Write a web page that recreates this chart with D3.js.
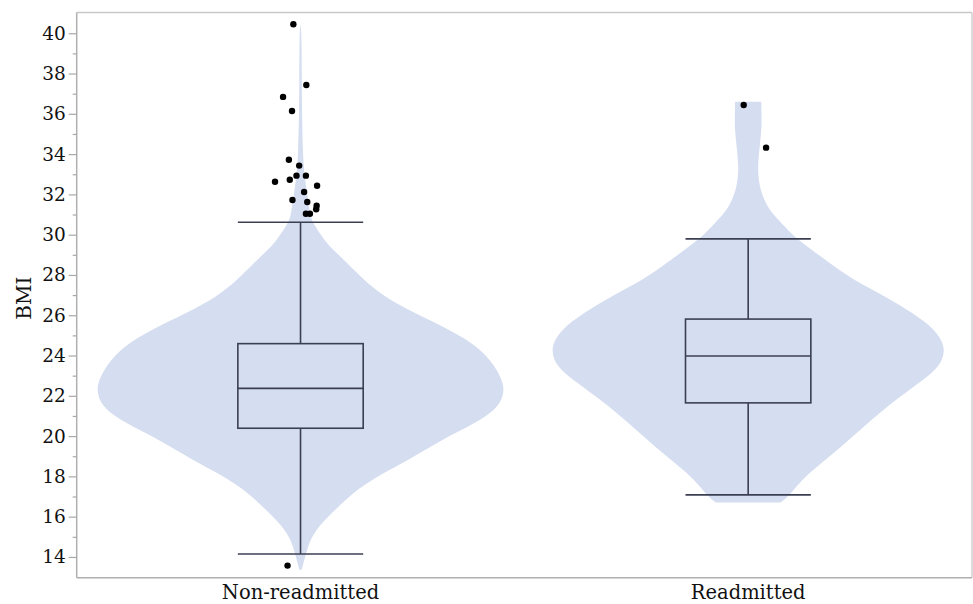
<!DOCTYPE html>
<html>
<head>
<meta charset="utf-8">
<script src="https://cdn.jsdelivr.net/npm/d3@7"></script>
<style>
  html, body { margin: 0; padding: 0; background: #fff; }
  svg { display: block; }
  text { font-family: "DejaVu Serif", "Liberation Serif", serif; fill: #111; }
</style>
</head>
<body>
<svg id="chart" width="973" height="604"></svg>
<script>
// ---------------- DATA ----------------
const categories = ["Non-readmitted", "Readmitted"];

// Box statistics [lowerWhisker, q1, median, q3, upperWhisker]
const boxNon = [14.15, 20.39, 22.37, 24.59, 30.62];
const boxRead = [17.08, 21.65, 23.98, 25.81, 29.79];

// Violin density profiles: BMI value and relative density (1 = widest of Non-readmitted)
const violinNonBMI = [40.45, 40.0, 38.0, 36.0, 34.0, 33.38, 32.72, 31.72, 31.06, 30.6, 29.72, 29.4, 28.58, 27.75, 26.92, 26.1, 25.27, 24.44, 23.61, 22.45, 21.46, 20.8, 20.14, 19.47, 18.65, 17.82, 16.99, 16.17, 15.34, 14.51, 13.68, 13.35];
const violinNonDensity = [0.0, 0.005, 0.006, 0.007, 0.012, 0.016, 0.022, 0.037, 0.046, 0.058, 0.118, 0.145, 0.230, 0.310, 0.410, 0.560, 0.735, 0.870, 0.945, 1.010, 0.975, 0.885, 0.755, 0.637, 0.500, 0.343, 0.235, 0.152, 0.072, 0.034, 0.015, 0.004];

const violinReadBMI = [36.6, 35.6, 35.2, 34.3, 33.55, 32.72, 31.8, 31.06, 30.4, 29.8, 28.58, 27.75, 26.92, 26.1, 25.27, 24.36, 23.45, 22.79, 21.96, 21.13, 20.3, 19.47, 18.65, 17.82, 17.08, 16.7];
const violinReadDensity = [0.064, 0.066, 0.065, 0.056, 0.048, 0.049, 0.072, 0.115, 0.181, 0.235, 0.402, 0.515, 0.676, 0.809, 0.920, 0.972, 0.940, 0.858, 0.745, 0.642, 0.549, 0.456, 0.358, 0.260, 0.205, 0.159];

// Outlier points: BMI value and horizontal jitter (fraction of category band)
const outNonBMI = [40.45, 37.43, 36.84, 36.14, 33.72, 33.43, 32.93, 32.93, 32.63, 32.73, 32.43, 32.12, 31.72, 31.62, 31.44, 31.26, 31.04, 31.04, 13.57];
const outNonJitter = [-0.016, 0.013, -0.039, -0.019, -0.026, -0.003, -0.009, 0.012, -0.057, -0.024, 0.037, 0.008, -0.018, 0.015, 0.036, 0.035, 0.012, 0.021, -0.029];
const outReadBMI = [36.44, 34.32];
const outReadJitter = [-0.010, 0.040];

const yTicks = [14, 16, 18, 20, 22, 24, 26, 28, 30, 32, 34, 36, 38, 40];
const yMinorTicks = [15, 17, 19, 21, 23, 25, 27, 29, 31, 33, 35, 37, 39];
const yLabel = "BMI";

// ---------------- LAYOUT ----------------
const W = 973, H = 604;
const plot = { left: 76.7, right: 972, top: 12.5, bottom: 577.7 };

const svg = d3.select("#chart");

const x = d3.scaleBand().domain(categories).range([plot.left, plot.right]).padding(0);
const y = d3.scaleLinear().domain([12.97, 41.03]).range([plot.bottom, plot.top]);
const wScale = d3.scaleLinear().domain([0, 1]).range([0, 204]);

const groups = [
  { cat: categories[0], box: boxNon, vb: violinNonBMI, vd: violinNonDensity, ob: outNonBMI, oj: outNonJitter },
  { cat: categories[1], box: boxRead, vb: violinReadBMI, vd: violinReadDensity, ob: outReadBMI, oj: outReadJitter }
];

const violinColor = "#d5ddf0";
const boxColor = "#3b3f52";

// Violins
groups.forEach(g => {
  const cx = x(g.cat) + x.bandwidth() / 2;
  const pts = g.vb.map((v, i) => ({ v, d: g.vd[i] }));
  const area = d3.area()
    .y(d => y(d.v))
    .x0(d => cx - wScale(d.d))
    .x1(d => cx + wScale(d.d))
    .curve(d3.curveBasis);
  svg.append("path").datum(pts).attr("d", area).attr("fill", violinColor).attr("stroke", "none");
});

// Boxes
const boxFrac = 0.28;
groups.forEach(g => {
  const cx = x(g.cat) + x.bandwidth() / 2;
  const bw = x.bandwidth() * boxFrac;
  const [lw, q1, med, q3, uw] = g.box;
  const gg = svg.append("g").attr("stroke", boxColor).attr("stroke-width", 1.6).attr("fill", "none");
  gg.append("line").attr("x1", cx).attr("x2", cx).attr("y1", y(uw)).attr("y2", y(q3));
  gg.append("line").attr("x1", cx).attr("x2", cx).attr("y1", y(q1)).attr("y2", y(lw));
  gg.append("line").attr("x1", cx - bw / 2).attr("x2", cx + bw / 2).attr("y1", y(uw)).attr("y2", y(uw));
  gg.append("line").attr("x1", cx - bw / 2).attr("x2", cx + bw / 2).attr("y1", y(lw)).attr("y2", y(lw));
  gg.append("rect").attr("x", cx - bw / 2).attr("y", y(q3)).attr("width", bw).attr("height", y(q1) - y(q3));
  gg.append("line").attr("x1", cx - bw / 2).attr("x2", cx + bw / 2).attr("y1", y(med)).attr("y2", y(med));
});

// Outlier points
groups.forEach(g => {
  const cx = x(g.cat) + x.bandwidth() / 2;
  svg.append("g").selectAll("circle")
    .data(g.ob.map((v, i) => ({ v, j: g.oj[i] })))
    .join("circle")
    .attr("cx", d => cx + d.j * x.bandwidth())
    .attr("cy", d => y(d.v))
    .attr("r", 3.2)
    .attr("fill", "#000");
});

// Frame (top and right)
svg.append("line").attr("x1", plot.left).attr("x2", plot.right).attr("y1", plot.top).attr("y2", plot.top)
  .attr("stroke", "#c8c8c8").attr("stroke-width", 1.5);
svg.append("line").attr("x1", plot.right).attr("x2", plot.right).attr("y1", plot.top).attr("y2", plot.bottom)
  .attr("stroke", "#d0d0d0").attr("stroke-width", 1.5);

// Y axis
const yAxis = d3.axisLeft(y).tickValues(yTicks).tickSize(8).tickPadding(3).tickSizeOuter(0);
const yg = svg.append("g").attr("transform", `translate(${plot.left},0)`).call(yAxis);
yg.select(".domain").attr("stroke", "#b0b0b0").attr("stroke-width", 1.5)
  .attr("d", `M0,${plot.top}V${plot.bottom}`);
yg.selectAll(".tick line").attr("stroke", "#a8a8a8").attr("stroke-width", 1.2);
yg.selectAll(".tick text").attr("font-family", "DejaVu Serif").attr("font-size", 18.5).attr("fill", "#111");

const yMinor = d3.axisLeft(y).tickValues(yMinorTicks).tickSize(4).tickFormat("").tickSizeOuter(0);
const ym = svg.append("g").attr("transform", `translate(${plot.left},0)`).call(yMinor);
ym.select(".domain").remove();
ym.selectAll(".tick line").attr("stroke", "#a8a8a8").attr("stroke-width", 1.2);

// X axis
const xAxis = d3.axisBottom(x).tickSize(0).tickPadding(10).tickSizeOuter(0);
const xg = svg.append("g").attr("transform", `translate(0,${plot.bottom})`).call(xAxis);
xg.select(".domain").attr("stroke", "#b0b0b0").attr("stroke-width", 1.5)
  .attr("d", `M${plot.left},0H${plot.right}`);
xg.selectAll(".tick text").attr("font-family", "DejaVu Serif").attr("font-size", 19.5).attr("fill", "#111")
  .attr("dy", null).attr("y", 21.5).attr("dominant-baseline", "auto");

// Y label
svg.append("text")
  .attr("transform", `translate(31,${(plot.top + plot.bottom) / 2 + 3}) rotate(-90)`)
  .attr("text-anchor", "middle")
  .attr("font-size", 20)
  .text(yLabel);
</script>
</body>
</html>
